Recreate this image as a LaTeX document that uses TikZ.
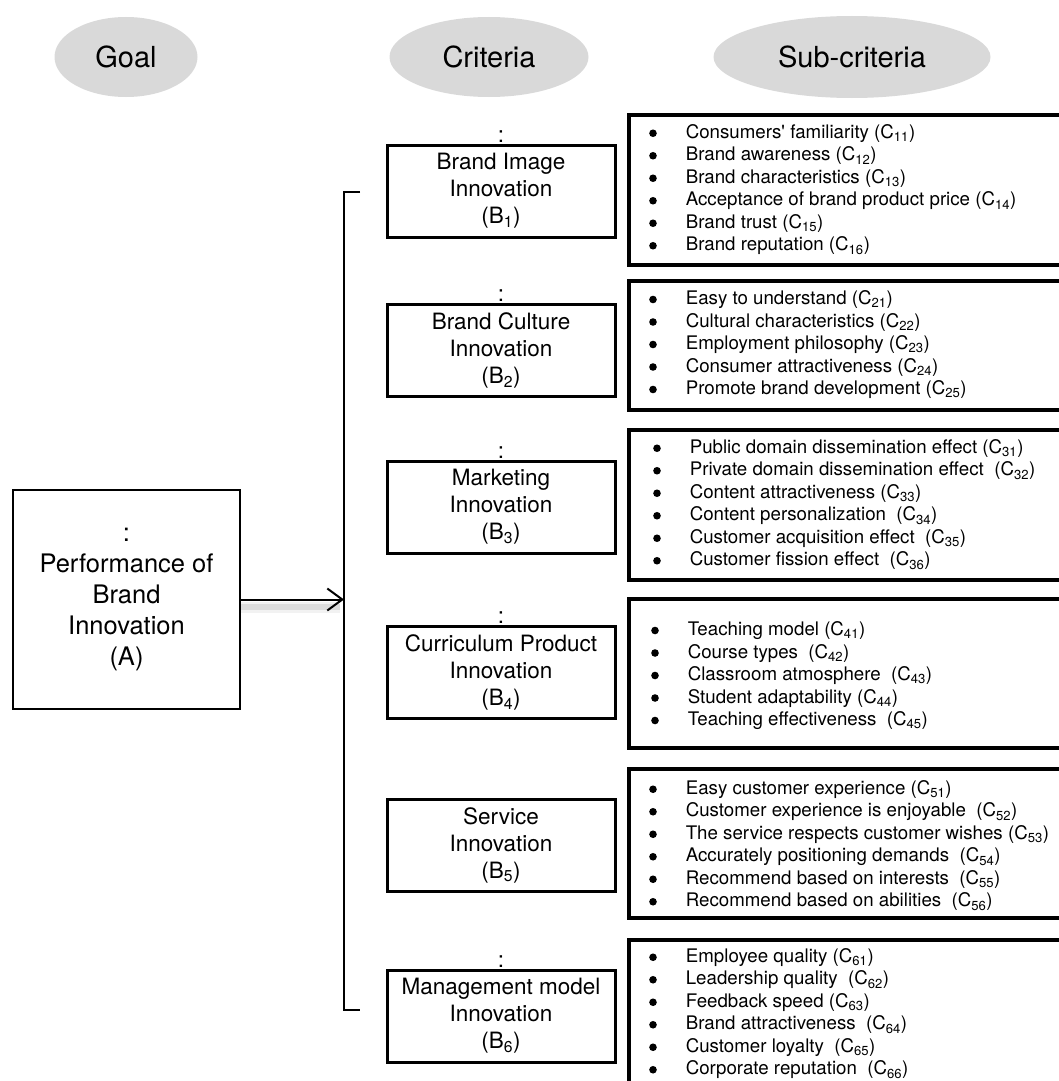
\documentclass[tikz,border=0pt]{standalone}
\usepackage{fontspec}
\setmainfont{TeX Gyre Heros}
\usetikzlibrary{shapes.geometric,arrows.meta,calc}
\definecolor{hdrgray}{HTML}{D9D9D9}
\newcommand{\hdrfont}{\fontsize{29}{34}\selectfont}
\newcommand{\critfont}{\fontsize{22.5}{27}\selectfont}
\newcommand{\goalfont}{\fontsize{25.5}{31}\selectfont}
\newcommand{\itemfont}{\fontsize{18.7}{22.5}\selectfont}
\newcommand{\subc}[1]{(C\textsubscript{#1})}
\newcommand{\bul}{\raisebox{1.2pt}{\tikz\fill (0,0) circle (3.8pt);}}
\newcommand{\itemtab}[1]{\begin{tabular}{@{}c@{\hspace{29pt}}l@{}}#1\end{tabular}}
\tikzset{
  hdr/.style={ellipse, fill=hdrgray, inner sep=0pt, minimum height=80pt, font=\hdrfont},
  critbox/.style={draw, line width=3pt, minimum width=228pt, minimum height=92pt, inner sep=0pt, align=center, font=\critfont},
  colonmark/.style={inner sep=0pt, font=\critfont},
  subbox/.style={draw, line width=3.2pt, minimum width=433pt, inner sep=0pt},
  itemtxt/.style={anchor=west, inner sep=0pt, font=\itemfont},
  goalbox/.style={draw, line width=2.6pt, minimum width=227pt, minimum height=219pt, inner sep=0pt, align=center, font=\goalfont},
  brk/.style={line width=2.5pt},
  mainarrow/.style={line width=2pt, -{Straight Barb[length=15pt, width=22pt, line width=2pt]}}
}
\begin{document}
\begin{tikzpicture}[x=1pt, y=-1pt]
\useasboundingbox (0,0) rectangle (1058,1081);
% headers
\node[hdr, minimum width=143pt] (hgoal) at (126,57) {Goal};
\node[hdr, minimum width=199pt] (hcrit) at (489,57) {Criteria};
\node[hdr, minimum width=277pt, minimum height=82pt] (hsub) at (852,57) {Sub-criteria};
% goal box
\node[goalbox] (A) at (126.5,599.5) {:\\Performance of\\Brand\\Innovation\\(A)};
% bracket
\coordinate (brkT) at (344,192);
\coordinate (brkB) at (344,1010);
\draw[brk] ($(brkT)+(16,0)$) -- (brkT) -- (brkB) -- ++(16,0);
% arrow with soft shadow
\draw[line width=11pt, black, opacity=0.05, transform canvas={yshift=-8pt}] (A.east) -- ($(A.east -| brkT)+(-4,0)$);
\draw[line width=6pt, black, opacity=0.09, transform canvas={yshift=-7pt}] (A.east) -- ($(A.east -| brkT)+(-4,0)$);
\draw[mainarrow] (A.east) -- (A.east -| brkT);
% criteria boxes
\node[critbox] (b1) at (501,191) {Brand Image\\Innovation\\(B\textsubscript{1})};
\node[critbox] (b2) at (501,350) {Brand Culture\\Innovation\\(B\textsubscript{2})};
\node[critbox] (b3) at (501,507) {Marketing\\Innovation\\(B\textsubscript{3})};
\node[critbox] (b4) at (501,672) {Curriculum Product\\Innovation\\(B\textsubscript{4})};
\node[critbox] (b5) at (501,845) {Service\\Innovation\\(B\textsubscript{5})};
\node[critbox] (b6) at (501,1016) {Management model\\Innovation\\(B\textsubscript{6})};
\node[colonmark] (k1) at ($(b1.north)+(0,-7)$) {:};
\node[colonmark] (k2) at ($(b2.north)+(0,-7)$) {:};
\node[colonmark] (k3) at ($(b3.north)+(0,-7)$) {:};
\node[colonmark] (k4) at ($(b4.north)+(0,-7)$) {:};
\node[colonmark] (k6) at ($(b6.north)+(0,-7)$) {:};
% sub-criteria boxes
\node[subbox, minimum height=150pt] (c1) at (845.5,190) {};
\node[subbox, minimum height=129pt] (c2) at (845.5,345.5) {};
\node[subbox, minimum height=150pt] (c3) at (845.5,505) {};
\node[subbox, minimum height=149pt] (c4) at (845.5,673.5) {};
\node[subbox, minimum height=149pt] (c5) at (845.5,843.5) {};
\node[subbox, minimum height=160pt] (c6) at (845.5,1020) {};
% items
\node[itemtxt] (t1) at (649,190) {\itemtab{
\bul & Consumers\textquotesingle\ familiarity \subc{11}\\
\bul & Brand awareness \subc{12}\\
\bul & Brand characteristics \subc{13}\\
\bul & Acceptance of brand product price \subc{14}\\
\bul & Brand trust \subc{15}\\
\bul & Brand reputation \subc{16}}};
\node[itemtxt] (t2) at (649,345) {\itemtab{
\bul & Easy to understand \subc{21}\\
\bul & Cultural characteristics \subc{22}\\
\bul & Employment philosophy \subc{23}\\
\bul & Consumer attractiveness \subc{24}\\
\bul & Promote brand development \subc{25}}};
\node[itemtxt] (t3) at (653,505) {\itemtab{
\bul & Public domain dissemination effect \subc{31}\\
\bul & Private domain dissemination effect \ \subc{32}\\
\bul & Content attractiveness \subc{33}\\
\bul & Content personalization \ \subc{34}\\
\bul & Customer acquisition effect \ \subc{35}\\
\bul & Customer fission effect \ \subc{36}}};
\node[itemtxt] (t4) at (651,676) {\itemtab{
\bul & Teaching model \subc{41}\\
\bul & Course types \ \subc{42}\\
\bul & Classroom atmosphere \ \subc{43}\\
\bul & Student adaptability \subc{44}\\
\bul & Teaching effectiveness \ \subc{45}}};
\node[itemtxt] (t5) at (649,846) {\itemtab{
\bul & Easy customer experience \subc{51}\\
\bul & Customer experience is enjoyable \ \subc{52}\\
\bul & The service respects customer wishes \subc{53}\\
\bul & Accurately positioning demands \ \subc{54}\\
\bul & Recommend based on interests \ \subc{55}\\
\bul & Recommend based on abilities \ \subc{56}}};
\node[itemtxt] (t6) at (649,1014) {\itemtab{
\bul & Employee quality \subc{61}\\
\bul & Leadership quality \ \subc{62}\\
\bul & Feedback speed \subc{63}\\
\bul & Brand attractiveness \ \subc{64}\\
\bul & Customer loyalty \ \subc{65}\\
\bul & Corporate reputation \ \subc{66}}};
\end{tikzpicture}
\end{document}
